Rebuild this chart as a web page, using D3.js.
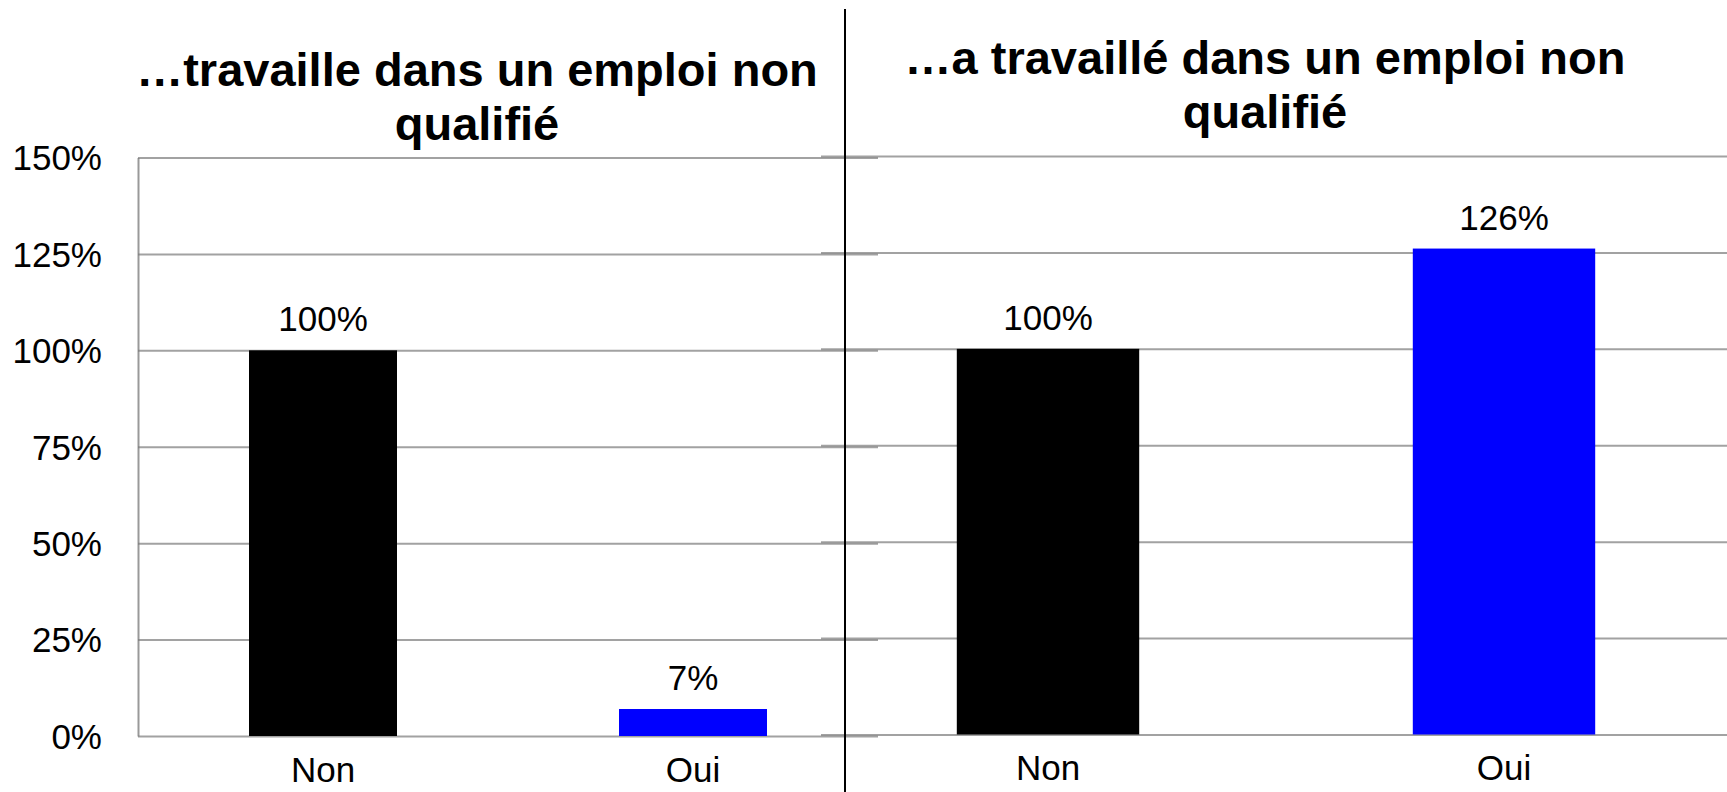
<!DOCTYPE html>
<html>
<head>
<meta charset="utf-8">
<script src="https://cdn.jsdelivr.net/npm/d3@7.9.0/dist/d3.min.js"></script>
<style>
  html, body { margin: 0; padding: 0; background: #fff; }
  svg { display: block; font-family: "Liberation Sans", Arial, sans-serif; }
</style>
</head>
<body>
<div id="chart"></div>
<script>
/* ── data ─────────────────────────────────────────────── */
const categories  = ['Non', 'Oui'];
const leftValues  = [100, 7];
const rightValues = [100, 126];
const yTicks      = [0, 25, 50, 75, 100, 125, 150];
const leftTitle   = ['…travaille dans un emploi non', 'qualifié'];
const rightTitle  = ['…a travaillé dans un emploi non', 'qualifié'];
const barColors   = ['#000000', '#0000ff'];

/* ── svg ──────────────────────────────────────────────── */
const width = 1727, height = 792;
const svg = d3.select('#chart').append('svg')
  .attr('width', width).attr('height', height);

/* one panel = scales + grid + bars + labels */
function drawPanel(values, opts) {
  const x = d3.scaleBand()
    .domain(categories)
    .range([opts.x0, opts.x1])
    .paddingInner(0.6)
    .paddingOuter(0.3);

  const y = d3.scaleLinear()
    .domain([0, 150])
    .range([opts.yBottom, opts.yTop]);

  const g = svg.append('g');

  // gridlines (+ tick labels on the left panel)
  const grid = g.append('g')
    .attr('transform', `translate(${opts.gx0},0)`)
    .call(d3.axisLeft(y)
      .tickValues(yTicks)
      .tickSize(-(opts.gx1 - opts.gx0))
      .tickSizeOuter(0)
      .tickPadding(36)
      .tickFormat(d => opts.labels ? d + '%' : ''));
  grid.selectAll('.tick line')
    .attr('stroke', '#7a7a7a')
    .attr('stroke-opacity', 0.7)
    .attr('stroke-width', 2);
  grid.select('.domain')
    .attr('stroke', opts.labels ? '#999' : 'none')
    .attr('stroke-width', 2);
  grid.selectAll('.tick text')
    .attr('fill', '#000')
    .attr('font-size', 35)
    .attr('dy', '0.35em');

  // bars
  g.selectAll('rect.bar')
    .data(values)
    .join('rect')
      .attr('class', 'bar')
      .attr('x', (d, i) => x(categories[i]))
      .attr('width', x.bandwidth())
      .attr('y', d => y(d))
      .attr('height', d => y(0) - y(d))
      .attr('fill', (d, i) => barColors[i]);

  // value labels
  g.selectAll('text.val')
    .data(values)
    .join('text')
      .attr('class', 'val')
      .attr('x', (d, i) => x(categories[i]) + x.bandwidth() / 2)
      .attr('y', d => y(d) - 19)
      .attr('text-anchor', 'middle')
      .attr('font-size', 35)
      .text(d => d + '%');

  // category axis
  const xa = g.append('g')
    .attr('transform', `translate(0,${y(0)})`)
    .call(d3.axisBottom(x).tickSize(0).tickPadding(21));
  xa.select('.domain').remove();
  xa.selectAll('text').attr('font-size', 35).attr('fill', '#000');

  // title
  svg.append('text')
    .attr('text-anchor', 'middle')
    .attr('font-size', 47)
    .attr('font-weight', 'bold')
    .selectAll('tspan')
    .data(opts.title)
    .join('tspan')
      .attr('x', opts.titleX)
      .attr('y', (d, i) => opts.titleY + i * 54)
      .text(d => d);
}

drawPanel(leftValues, {
  x0: 138, x1: 878, gx0: 138, gx1: 878,
  yBottom: 736, yTop: 157.5,
  labels: true,
  title: leftTitle, titleX: 477, titleY: 86
});

drawPanel(rightValues, {
  x0: 820, x1: 1732, gx0: 821, gx1: 1727,
  yBottom: 734.5, yTop: 156,
  labels: false,
  title: rightTitle, titleX: 1265, titleY: 74
});

// separator between the two panels
svg.append('line')
  .attr('x1', 845).attr('x2', 845)
  .attr('y1', 9).attr('y2', height)
  .attr('stroke', '#000')
  .attr('stroke-width', 2);
</script>
</body>
</html>
